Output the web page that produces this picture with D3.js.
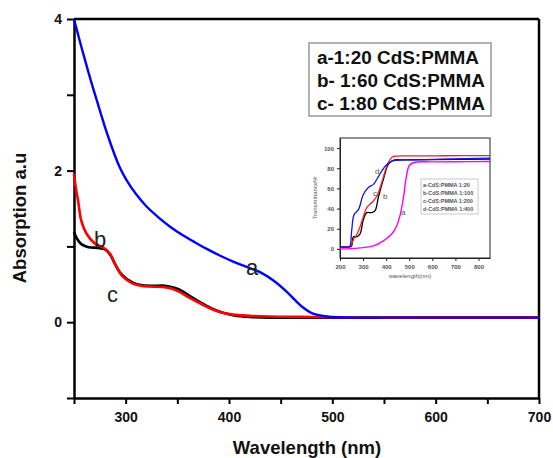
<!DOCTYPE html>
<html>
<head>
<meta charset="utf-8">
<script src="https://cdn.jsdelivr.net/npm/d3@7"></script>
<style>
  html, body { margin: 0; padding: 0; background: #fff; }
  svg { display: block; font-family: "Liberation Sans", Arial, Helvetica, sans-serif; }
</style>
</head>
<body>
<svg id="chart" width="553" height="458"></svg>
<script>
// ---------- Main chart data (Absorption vs wavelength) ----------
const wlA = [250, 255, 260, 266, 272, 283, 294, 301, 310, 320, 332, 343, 355, 365, 378, 391, 404, 417, 430, 443, 456, 464, 472, 480, 488, 495, 505, 520, 550, 600, 650, 700];
const absA = [4.0, 3.74, 3.49, 3.20, 2.93, 2.45, 2.05, 1.87, 1.69, 1.53, 1.38, 1.26, 1.15, 1.07, 0.97, 0.88, 0.80, 0.73, 0.66, 0.55, 0.40, 0.29, 0.19, 0.12, 0.09, 0.075, 0.065, 0.06, 0.06, 0.06, 0.06, 0.06];

const wlB = [250, 252, 254, 257, 262, 270, 280, 285, 290, 296, 301, 307, 315, 323, 336, 345, 352, 362, 372, 382, 392, 404, 420, 440, 470, 500, 550, 600, 700];
const absB = [1.96, 1.75, 1.6, 1.34, 1.17, 1.04, 0.97, 0.90, 0.76, 0.62, 0.56, 0.51, 0.48, 0.47, 0.465, 0.44, 0.40, 0.32, 0.25, 0.18, 0.13, 0.10, 0.085, 0.075, 0.07, 0.065, 0.06, 0.06, 0.06];

const wlC = [250, 253, 257, 264, 273, 280, 285, 290, 296, 307, 315, 325, 338, 348, 356, 365, 375, 385, 395, 405, 420, 440, 500, 600, 700];
const absC = [1.19, 1.10, 1.03, 0.99, 0.98, 0.96, 0.89, 0.76, 0.63, 0.52, 0.49, 0.48, 0.48, 0.45, 0.40, 0.32, 0.24, 0.17, 0.12, 0.09, 0.07, 0.06, 0.06, 0.06, 0.06];

const xTicks = [250, 300, 350, 400, 450, 500, 550, 600, 650, 700];
const xTickLabels = [300, 400, 500, 600, 700];
const yTicks = [-1, 0, 1, 2, 3, 4];
const yTickLabels = [0, 2, 4];

const legendLabels = ["a-1:20 CdS:PMMA", "b- 1:60 CdS:PMMA", "c- 1:80 CdS:PMMA"];

// ---------- Inset data (Transmittance vs wavelength) ----------
const insWlA = [200, 250, 287, 345, 388, 425, 446, 461, 475, 487, 501, 525, 600, 700, 850];
const insTA  = [0, 0.3, 1, 3, 8, 15, 23, 34, 51, 71, 83, 86, 86.3, 86.5, 86.7];

const insWlB = [200, 240, 250, 258, 272, 287, 301, 316, 338, 352, 367, 388, 410, 432, 470, 600, 850];
const insTB  = [2, 2, 2.5, 12, 12, 15, 29, 36, 36, 38, 52, 69, 84, 88, 88.3, 88.6, 89];

const insWlC = [200, 238, 245, 258, 272, 287, 301, 316, 338, 359, 381, 403, 425, 446, 500, 650, 850];
const insTC  = [2, 2, 2.5, 9, 14, 22, 32, 41, 46, 52, 66, 82, 91, 92, 92.2, 92.4, 92.5];

const insWlD = [200, 238, 243, 251, 261, 280, 301, 323, 345, 367, 396, 425, 450, 520, 650, 850];
const insTD  = [2, 2, 2.5, 19, 34, 39, 54, 61, 64, 72, 82, 87, 88, 88.3, 89, 90];

const insXTicks = [200, 300, 400, 500, 600, 700, 800];
const insYTicks = [0, 20, 40, 60, 80, 100];
const insLegendLabels = ["a-CdS:PMMA 1:20", "b-CdS:PMMA 1:100", "c-CdS:PMMA 1:200", "d-CdS:PMMA 1:400"];

// ---------- Drawing ----------
const svg = d3.select("#chart");

const x = d3.scaleLinear().domain([250, 700]).range([74, 539]);
const y = d3.scaleLinear().domain([-1, 4]).range([398, 19]);

const line = d3.line().x(d => x(d[0])).y(d => y(d[1])).curve(d3.curveCatmullRom.alpha(0.5));
const zip = (a, b) => a.map((v, i) => [v, b[i]]);

// frame (top, right)
svg.append("line").attr("x1", x(250)).attr("x2", x(700)).attr("y1", y(4)).attr("y2", y(4))
  .attr("stroke", "#000").attr("stroke-width", 2.5);
svg.append("line").attr("x1", x(700)).attr("x2", x(700)).attr("y1", y(4)).attr("y2", y(-1))
  .attr("stroke", "#000").attr("stroke-width", 2.5);

// axes
const xAxis = d3.axisBottom(x).tickValues(xTicks).tickSize(6).tickSizeOuter(0)
  .tickFormat(d => xTickLabels.includes(d) ? d : "");
const gx = svg.append("g").attr("transform", `translate(0,${y(-1)})`).call(xAxis);
gx.select(".domain").attr("stroke-width", 2.5);
gx.selectAll(".tick line").attr("stroke-width", 2);
gx.selectAll(".tick text").attr("font-size", 14).attr("font-weight", "bold").attr("fill", "#111").attr("dy", "1.05em");

const yAxis = d3.axisLeft(y).tickValues(yTicks).tickSize(7).tickSizeOuter(0)
  .tickFormat(d => yTickLabels.includes(d) ? d : "");
const gy = svg.append("g").attr("transform", `translate(${x(250)},0)`).call(yAxis);
gy.select(".domain").attr("stroke-width", 2.5);
gy.selectAll(".tick line").attr("stroke-width", 2);
gy.selectAll(".tick text").attr("font-size", 14).attr("font-weight", "bold").attr("fill", "#111").attr("x", -12);

// axis titles
svg.append("text").attr("x", 307).attr("y", 454).attr("text-anchor", "middle")
  .attr("font-size", 18.5).attr("font-weight", "bold").attr("fill", "#111").text("Wavelength (nm)");
svg.append("text").attr("transform", "translate(26,218) rotate(-90)").attr("text-anchor", "middle")
  .attr("font-size", 18.5).attr("font-weight", "bold").attr("fill", "#111").text("Absorption a.u");

// curves (black, red, blue)
svg.append("path").datum(zip(wlC, absC)).attr("d", line).attr("fill", "none").attr("stroke", "#000").attr("stroke-width", 2.6);
svg.append("path").datum(zip(wlB, absB)).attr("d", line).attr("fill", "none").attr("stroke", "#ff0000").attr("stroke-width", 2.6);
svg.append("path").datum(zip(wlA, absA)).attr("d", line).attr("fill", "none").attr("stroke", "#0000ff").attr("stroke-width", 2.4);

// curve labels
svg.append("text").attr("x", 94).attr("y", 247).attr("font-size", 22).attr("fill", "#222").text("b");
svg.append("text").attr("x", 107).attr("y", 302).attr("font-size", 22).attr("fill", "#222").text("c");
svg.append("text").attr("x", 246).attr("y", 275).attr("font-size", 22).attr("fill", "#222").text("a");

// legend
svg.append("rect").attr("x", 309).attr("y", 43).attr("width", 182).attr("height", 73)
  .attr("fill", "#fff").attr("stroke", "#999").attr("stroke-width", 1.5);
legendLabels.forEach((t, i) => {
  svg.append("text").attr("x", 317).attr("y", 63.5 + i * 23.3).attr("font-size", 18)
    .attr("font-weight", "bold").attr("fill", "#111").attr("textLength", i === 0 ? 162 : 168)
    .attr("lengthAdjust", "spacingAndGlyphs").text(t);
});

// ---------- Inset ----------
const ix = d3.scaleLinear().domain([200, 850]).range([340, 490]);
const iy = d3.scaleLinear().domain([-9, 110]).range([258, 138]);
const iline = d3.line().x(d => ix(d[0])).y(d => iy(d[1])).curve(d3.curveCatmullRom.alpha(0.5));

const ig = svg.append("g");
ig.append("rect").attr("x", 340).attr("y", 138).attr("width", 150).attr("height", 120)
  .attr("fill", "#fff").attr("stroke", "#222").attr("stroke-width", 1);

const ixAxis = d3.axisBottom(ix).tickValues(insXTicks).tickSize(3).tickSizeOuter(0);
const igx = ig.append("g").attr("transform", "translate(0,258)").call(ixAxis);
igx.select(".domain").attr("stroke", "#222");
igx.selectAll(".tick line").attr("stroke", "#222");
igx.selectAll(".tick text").attr("font-size", 6).attr("font-weight", "bold").attr("fill", "#555").attr("dy", "0.9em");

const iyAxis = d3.axisLeft(iy).tickValues(insYTicks).tickSize(3).tickSizeOuter(0);
const igy = ig.append("g").attr("transform", "translate(340,0)").call(iyAxis);
igy.select(".domain").attr("stroke", "#222");
igy.selectAll(".tick line").attr("stroke", "#222");
igy.selectAll(".tick text").attr("font-size", 6).attr("font-weight", "bold").attr("fill", "#555");

ig.append("text").attr("transform", "translate(317,198) rotate(-90)").attr("text-anchor", "middle")
  .attr("font-size", 6).attr("fill", "#555").text("Transmittance%");
ig.append("text").attr("x", 410).attr("y", 278).attr("text-anchor", "middle")
  .attr("font-size", 6).attr("fill", "#555").text("wavelength(nm)");

ig.append("path").datum(zip(insWlA, insTA)).attr("d", iline).attr("fill", "none").attr("stroke", "#ff00ff").attr("stroke-width", 1.4);
ig.append("path").datum(zip(insWlB, insTB)).attr("d", iline).attr("fill", "none").attr("stroke", "#000").attr("stroke-width", 1.3);
ig.append("path").datum(zip(insWlC, insTC)).attr("d", iline).attr("fill", "none").attr("stroke", "#ff2020").attr("stroke-width", 1.3);
ig.append("path").datum(zip(insWlD, insTD)).attr("d", iline).attr("fill", "none").attr("stroke", "#1515e0").attr("stroke-width", 1.3);

// inset curve labels
[["d", 375, 174], ["c", 373, 196], ["b", 383, 199], ["a", 401, 215]].forEach(([t, px, py]) => {
  ig.append("text").attr("x", px).attr("y", py).attr("font-size", 8).attr("fill", "#555").text(t);
});

// inset legend
ig.append("rect").attr("x", 421).attr("y", 179).attr("width", 57).attr("height", 35)
  .attr("fill", "#fff").attr("stroke", "#bbb").attr("stroke-width", 0.8);
insLegendLabels.forEach((t, i) => {
  ig.append("text").attr("x", 423).attr("y", 187 + i * 8).attr("font-size", 5.5)
    .attr("font-weight", "bold").attr("fill", "#555").text(t);
});
</script>
</body>
</html>
